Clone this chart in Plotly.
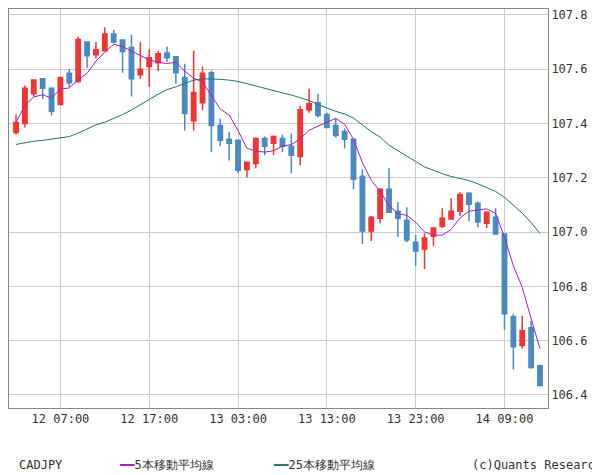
import pandas as pd
import plotly.graph_objects as go

start = pd.Timestamp("2020-05-12 02:00")
times = pd.date_range(start, periods=60, freq="h")

opens = [107.367, 107.40, 107.51, 107.565, 107.53, 107.47, 107.585, 107.555, 107.70, 107.653,
         107.668, 107.73, 107.708, 107.68, 107.58, 107.61, 107.624, 107.66, 107.646, 107.57,
         107.41, 107.477, 107.587, 107.393, 107.342, 107.338, 107.231, 107.253, 107.345, 107.327,
         107.345, 107.316, 107.279, 107.451, 107.477, 107.433, 107.393, 107.371, 107.342, 107.206,
         107.004, 107.051, 107.158, 107.077, 107.044, 106.963, 106.938, 106.985, 107.022, 107.048,
         107.077, 107.143, 107.106, 107.033, 107.055, 106.993, 106.688, 106.582, 106.648, 106.508]
highs = [107.433, 107.54, 107.56, 107.565, 107.53, 107.57, 107.60, 107.72, 107.70, 107.70,
         107.755, 107.745, 107.708, 107.727, 107.70, 107.675, 107.668, 107.683, 107.646, 107.62,
         107.668, 107.61, 107.595, 107.418, 107.37, 107.338, 107.26, 107.349, 107.352, 107.356,
         107.36, 107.363, 107.466, 107.528, 107.51, 107.44, 107.418, 107.382, 107.342, 107.232,
         107.059, 107.162, 107.235, 107.11, 107.092, 106.989, 106.996, 107.018, 107.088, 107.125,
         107.147, 107.147, 107.114, 107.077, 107.088, 106.993, 106.699, 106.692, 106.673, 106.512]
lows = [107.36, 107.385, 107.50, 107.49, 107.43, 107.47, 107.535, 107.55, 107.605, 107.64,
        107.668, 107.695, 107.587, 107.50, 107.565, 107.535, 107.594, 107.627, 107.547, 107.374,
        107.374, 107.45, 107.294, 107.316, 107.264, 107.217, 107.202, 107.235, 107.283, 107.283,
        107.294, 107.217, 107.246, 107.44, 107.422, 107.385, 107.349, 107.308, 107.158, 106.956,
        106.967, 107.033, 107.073, 106.982, 106.963, 106.875, 106.864, 106.949, 107.015, 107.048,
        107.059, 107.04, 107.018, 107.015, 106.993, 106.64, 106.494, 106.571, 106.497, 106.431]
closes = [107.404, 107.53, 107.56, 107.53, 107.445, 107.57, 107.55, 107.71, 107.65, 107.672,
          107.73, 107.70, 107.665, 107.565, 107.60, 107.642, 107.657, 107.642, 107.587, 107.437,
          107.514, 107.585, 107.393, 107.338, 107.327, 107.228, 107.257, 107.345, 107.316, 107.352,
          107.316, 107.283, 107.451, 107.473, 107.43, 107.385, 107.356, 107.342, 107.195, 107.004,
          107.055, 107.158, 107.073, 107.051, 106.971, 106.93, 106.978, 107.015, 107.051, 107.077,
          107.139, 107.103, 107.037, 107.073, 106.993, 106.699, 106.578, 106.637, 106.501, 106.435]
ma25 = [107.323, 107.33, 107.335, 107.338, 107.342, 107.346, 107.352, 107.365, 107.38, 107.395,
        107.405, 107.418, 107.433, 107.45, 107.47, 107.49, 107.508, 107.525, 107.535, 107.548,
        107.56, 107.565, 107.565, 107.563, 107.56, 107.555, 107.547, 107.538, 107.53, 107.522,
        107.513, 107.505, 107.495, 107.485, 107.47, 107.457, 107.445, 107.435, 107.42, 107.395,
        107.37, 107.35, 107.32, 107.30, 107.28, 107.26, 107.24, 107.228, 107.215, 107.205,
        107.198, 107.19, 107.178, 107.165, 107.15, 107.128, 107.1, 107.07, 107.035, 106.995]

ma5 = pd.Series(closes).rolling(5, min_periods=1).mean()

RED = "#f23434"
BLUE = "#4a8ac2"
MAG = "#a41fc4"
TEAL = "#23766c"
FONT = "DejaVu Sans Mono"

fig = go.Figure()
fig.add_trace(go.Candlestick(
    x=times, open=opens, high=highs, low=lows, close=closes,
    increasing=dict(line=dict(color=RED, width=1.5), fillcolor=RED),
    decreasing=dict(line=dict(color=BLUE, width=1.5), fillcolor=BLUE),
    whiskerwidth=0, showlegend=False, hoverinfo="skip",
))
fig.add_trace(go.Scatter(x=times, y=ma25, mode="lines", line=dict(color=TEAL, width=1), showlegend=False))
fig.add_trace(go.Scatter(x=times, y=ma5, mode="lines", line=dict(color=MAG, width=1), showlegend=False))

tick_times = pd.date_range("2020-05-12 07:00", periods=6, freq="10h")
hour = pd.Timedelta(hours=1)

fig.update_layout(
    width=600, height=475,
    margin=dict(l=1, r=60, t=1, b=75, autoexpand=False),
    plot_bgcolor="white", paper_bgcolor="white",
    font=dict(family=FONT, size=12, color="#333"),
)
fig.update_xaxes(
    range=[start - 0.79 * hour, start + 59.9 * hour], automargin=False,
    tickvals=tick_times, ticktext=[t.strftime("%d %H:%M") for t in tick_times],
    showgrid=True, gridcolor="#cccccc", showline=True, linecolor="#888", mirror=True,
    rangeslider=dict(visible=False), ticks="", zeroline=False,
)
fig.update_yaxes(
    range=[106.352, 107.822], side="right", dtick=0.2, tickformat=".1f", automargin=False,
    showgrid=True, gridcolor="#cccccc", showline=True, linecolor="#888", mirror=True,
    ticks="", zeroline=False,
)

legend_y = -0.165
fig.add_annotation(text="CADJPY", x=0.0, y=legend_y, xref="paper", yref="paper",
                   xanchor="left", showarrow=False, xshift=8)
fig.add_annotation(text="<span style='color:%s'>━━</span>5本移動平均線" % MAG, x=108 / 540, y=legend_y,
                   xref="paper", yref="paper", xanchor="left", showarrow=False)
fig.add_annotation(text="<span style='color:%s'>━━</span>25本移動平均線" % TEAL, x=262 / 540, y=legend_y,
                   xref="paper", yref="paper", xanchor="left", showarrow=False)
fig.add_annotation(text="(c)Quants Research", x=1.0, y=legend_y, xref="paper", yref="paper",
                   xanchor="right", showarrow=False, xshift=56)

fig.write_html("out.html")
